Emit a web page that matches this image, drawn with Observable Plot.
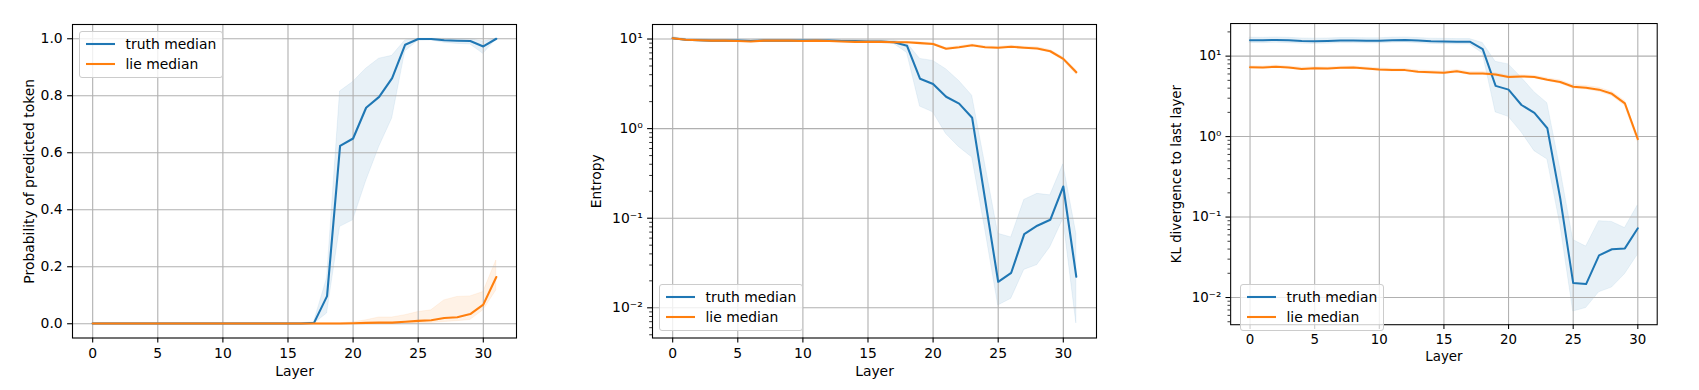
<!DOCTYPE html>
<html><head><meta charset="utf-8">
<script src="https://cdn.jsdelivr.net/npm/d3@7"></script>
<script src="https://cdn.jsdelivr.net/npm/@observablehq/plot@0.6"></script>
<style>
html,body{margin:0;padding:0;background:#fff;}
#root{position:relative;width:1699px;height:390px;overflow:hidden;font-family:"DejaVu Sans",sans-serif;}
.panel{position:absolute;top:0;}
.legend{position:absolute;background:rgba(255,255,255,0.8);border:1px solid #cccccc;border-radius:3px;padding:2px 6px;font-size:13.9px;color:#000;}
.legend .row{display:flex;align-items:center;height:20.5px;white-space:nowrap;}
.legend svg{margin-right:11px;display:block;}
</style></head><body><div id="root"></div>
<script>
// ---------- data ----------
const layers32 = [0,1,2,3,4,5,6,7,8,9,10,11,12,13,14,15,16,17,18,19,20,21,22,23,24,25,26,27,28,29,30,31];
const layers31 = [0,1,2,3,4,5,6,7,8,9,10,11,12,13,14,15,16,17,18,19,20,21,22,23,24,25,26,27,28,29,30];
const xTicks = [0,5,10,15,20,25,30];

// Panel 1: probability of predicted token
const probTruthMed = [0.001,0.001,0.001,0.001,0.001,0.001,0.001,0.001,0.001,0.001,0.001,0.001,0.001,0.001,0.001,0.001,0.001,0.003,0.097,0.624,0.650,0.758,0.796,0.862,0.979,0.999,0.999,0.995,0.993,0.992,0.973,1.0];
const probTruthLo  = [0,0,0,0,0,0,0,0,0,0,0,0,0,0,0,0,0,0,0.036,0.34,0.363,0.50,0.62,0.72,0.955,0.993,0.994,0.986,0.982,0.98,0.947,0.998];
const probTruthHi  = [0.002,0.002,0.002,0.002,0.002,0.002,0.002,0.002,0.002,0.002,0.002,0.002,0.002,0.002,0.002,0.002,0.002,0.005,0.16,0.815,0.848,0.895,0.93,0.94,0.994,1.0,1.0,1.0,0.999,0.999,0.99,1.0];
const probLieMed   = [0.001,0.001,0.001,0.001,0.001,0.001,0.001,0.001,0.001,0.001,0.001,0.001,0.001,0.001,0.001,0.001,0.001,0.001,0.001,0.001,0.002,0.003,0.004,0.004,0.007,0.010,0.012,0.020,0.023,0.034,0.067,0.164];
const probLieLo    = [0,0,0,0,0,0,0,0,0,0,0,0,0,0,0,0,0,0,0,0,0,0,0,0,0.001,0.002,0.003,0.006,0.009,0.013,0.047,0.117];
const probLieHi    = [0.002,0.002,0.002,0.002,0.002,0.002,0.002,0.002,0.002,0.002,0.002,0.002,0.002,0.002,0.002,0.002,0.002,0.002,0.002,0.002,0.005,0.012,0.022,0.022,0.03,0.041,0.047,0.082,0.094,0.096,0.111,0.222];
const probTicks = [0,0.2,0.4,0.6,0.8,1.0];
const probTickLabels = ["0.0","0.2","0.4","0.6","0.8","1.0"];

// Panel 2: entropy
const entTruthMed = [10.2,9.8,9.7,9.6,9.6,9.6,9.5,9.6,9.6,9.6,9.6,9.6,9.6,9.5,9.5,9.4,9.4,9.2,8.4,3.6,3.15,2.27,1.9,1.32,0.16,0.0195,0.0246,0.0665,0.0824,0.096,0.226,0.0222];
const entTruthLo  = [9.9,9.5,9.4,9.3,9.3,9.3,9.2,9.3,9.3,9.3,9.3,9.3,9.3,9.2,9.2,9.1,9.0,8.8,7.0,1.76,1.52,0.87,0.62,0.476,0.075,0.0106,0.0126,0.0265,0.030,0.0475,0.098,0.0067];
const entTruthHi  = [10.5,10.1,10.0,9.9,9.9,9.9,9.8,9.9,9.9,9.9,9.9,9.9,9.9,9.8,9.8,9.7,9.7,9.6,9.0,6.0,5.7,4.6,3.4,2.33,0.4,0.067,0.061,0.16,0.187,0.18,0.40,0.067];
const entLieMed   = [10.2,9.8,9.7,9.6,9.6,9.5,9.4,9.6,9.6,9.6,9.5,9.6,9.5,9.4,9.3,9.3,9.3,9.2,9.2,9.0,8.8,7.8,8.1,8.5,8.1,8.0,8.2,8.0,7.85,7.3,6.0,4.25];
const entLieLo    = [10.0,9.6,9.5,9.4,9.4,9.3,9.2,9.4,9.4,9.4,9.3,9.4,9.3,9.2,9.1,9.1,9.1,9.0,9.0,8.8,8.6,7.6,7.9,8.3,7.9,7.8,8.0,7.8,7.6,7.05,5.75,4.0];
const entLieHi    = [10.4,10.0,9.9,9.8,9.8,9.7,9.6,9.8,9.8,9.8,9.7,9.8,9.7,9.6,9.5,9.5,9.5,9.4,9.4,9.2,9.0,8.0,8.3,8.7,8.3,8.2,8.4,8.2,8.1,7.55,6.25,4.5];

// Panel 3: KL divergence to last layer
const klTruthMed = [15.8,15.7,15.9,15.7,15.4,15.3,15.4,15.6,15.6,15.5,15.5,15.8,15.9,15.6,15.3,15.2,15.1,15.1,12.2,4.27,3.83,2.47,1.97,1.27,0.17,0.0151,0.0147,0.0334,0.0398,0.0408,0.0726];
const klTruthLo  = [14.6,14.5,14.7,14.5,14.3,14.2,14.3,14.5,14.5,14.4,14.4,14.7,14.8,14.5,14.2,14.1,14.0,14.0,10.8,2.0,1.76,1.13,0.66,0.52,0.08,0.0067,0.0074,0.0116,0.0133,0.0195,0.034];
const klTruthHi  = [17.0,16.9,17.1,16.9,16.6,16.5,16.6,16.8,16.8,16.7,16.7,17.0,17.1,16.8,16.5,16.4,16.3,16.3,14.6,8.5,7.9,5.4,3.56,2.6,0.4,0.052,0.043,0.089,0.087,0.073,0.14];
const klLieMed   = [7.26,7.2,7.4,7.2,6.93,7.07,7.0,7.15,7.2,7.0,6.8,6.7,6.7,6.4,6.3,6.2,6.5,6.1,6.1,5.9,5.5,5.6,5.5,5.1,4.77,4.16,4.05,3.83,3.4,2.59,0.93];
const klLieLo    = [7.0,6.95,7.15,6.95,6.7,6.85,6.75,6.9,6.95,6.75,6.55,6.45,6.45,6.15,6.05,5.95,6.25,5.85,5.85,5.65,5.3,5.4,5.3,4.9,4.55,3.95,3.85,3.6,3.2,2.42,0.86];
const klLieHi    = [7.5,7.45,7.65,7.45,7.2,7.3,7.25,7.4,7.45,7.25,7.05,6.95,6.95,6.65,6.55,6.45,6.75,6.35,6.35,6.15,5.7,5.8,5.7,5.3,5.0,4.38,4.25,4.05,3.6,2.78,1.0];

const logTicks = [0.01,0.1,1,10];
const logTickLabels = ["10\u207B\u00B2","10\u207B\u00B9","10\u2070","10\u00B9"];
const logMinorTicks = [0.005,0.006,0.007,0.008,0.009,0.02,0.03,0.04,0.05,0.06,0.07,0.08,0.09,0.2,0.3,0.4,0.5,0.6,0.7,0.8,0.9,2,3,4,5,6,7,8,9,20];

const seriesNames = ["truth median","lie median"];
const BLUE = "#1f77b4", ORANGE = "#ff7f0e";

// ---------- drawing ----------
const root = document.getElementById("root");
const FS = 13.9;

function rows(layers, med, lo, hi) {
  return layers.map((l, i) => ({layer: l, med: med[i], lo: lo[i], hi: hi[i]}));
}

function panel(opt) {
  const [d0, d1] = opt.yDomain;
  const inDom = v => v >= Math.min(d0, d1) && v <= Math.max(d0, d1);
  const minor = (opt.minor || []).filter(inDom);
  const fmt = d => opt.yTickLabels[opt.yTicks.indexOf(d)];
  const marks = [
    Plot.areaY(opt.truth, {x: "layer", y1: "lo", y2: "hi", fill: BLUE, fillOpacity: 0.1, stroke: BLUE, strokeOpacity: 0.08, strokeWidth: 1}),
    Plot.areaY(opt.lie, {x: "layer", y1: "lo", y2: "hi", fill: ORANGE, fillOpacity: 0.1, stroke: ORANGE, strokeOpacity: 0.08, strokeWidth: 1}),
    Plot.gridX({ticks: xTicks.filter(v => v <= opt.xDomain[1]), stroke: "#b0b0b0", strokeOpacity: 1, strokeWidth: 1.1}),
    Plot.gridY({ticks: opt.yTicks, stroke: "#b0b0b0", strokeOpacity: 1, strokeWidth: 1.1}),
    Plot.line(opt.truth, {x: "layer", y: "med", stroke: BLUE, strokeWidth: 2.08}),
    Plot.line(opt.lie, {x: "layer", y: "med", stroke: ORANGE, strokeWidth: 2.08}),
    Plot.frame({stroke: "black", strokeWidth: 1.1}),
    Plot.axisX({ticks: xTicks, tickSize: 4.9, tickPadding: 4.9, label: null, tickFormat: d => String(d), fontSize: FS, strokeWidth: 1.1}),
    Plot.axisY({ticks: opt.yTicks, tickSize: 4.9, tickPadding: 4.9, label: null, tickFormat: fmt, fontSize: FS, strokeWidth: 1.1}),
    Plot.text(["Layer"], {text: d => d, frameAnchor: "bottom", dy: 33.5, lineAnchor: "middle", fontSize: FS, fill: "black"}),
    Plot.text([opt.ylabel], {text: d => d, frameAnchor: "left", dx: opt.ylabelDx, rotate: -90, lineAnchor: "middle", textAnchor: "middle", fontSize: FS, fill: "black"})
  ];
  if (minor.length) {
    marks.push(Plot.axisY({ticks: minor, tickSize: 2.8, label: null, tickFormat: () => "", strokeWidth: 0.8}));
  }
  const svg = Plot.plot({
    width: 560, height: 390,
    marginLeft: 72, marginRight: 44, marginTop: 24, marginBottom: 52.5,
    x: {domain: opt.xDomain},
    y: {type: opt.yType, domain: opt.yDomain},
    style: {fontFamily: "'DejaVu Sans', sans-serif", fontSize: FS + "px", color: "black", background: "transparent", overflow: "visible"},
    marks
  });
  const wrap = document.createElement("div");
  wrap.className = "panel";
  wrap.style.left = opt.left + "px";
  wrap.appendChild(svg);
  root.appendChild(wrap);

  // legend
  const lg = document.createElement("div");
  lg.className = "legend";
  lg.style.left = opt.legend.left + "px";
  if (opt.legend.top != null) lg.style.top = opt.legend.top + "px";
  if (opt.legend.bottom != null) lg.style.bottom = opt.legend.bottom + "px";
  [[seriesNames[0], BLUE], [seriesNames[1], ORANGE]].forEach(([name, col]) => {
    const r = document.createElement("div");
    r.className = "row";
    r.innerHTML = `<svg width="29" height="6"><line x1="0" x2="29" y1="3" y2="3" stroke="${col}" stroke-width="2.08"/></svg><span>${name}</span>`;
    lg.appendChild(r);
  });
  root.appendChild(lg);
}

panel({
  left: 0,
  xDomain: [-1.55, 32.55],
  yType: "linear", yDomain: [-0.05, 1.05],
  yTicks: probTicks, yTickLabels: probTickLabels,
  ylabel: "Probability of predicted token", ylabelDx: -43,
  truth: rows(layers32, probTruthMed, probTruthLo, probTruthHi),
  lie: rows(layers32, probLieMed, probLieLo, probLieHi),
  legend: {left: 78.5, top: 30.7}
});
panel({
  left: 580,
  xDomain: [-1.55, 32.55],
  yType: "log", yDomain: [Math.pow(10, -2.337), Math.pow(10, 1.162)],
  yTicks: logTicks, yTickLabels: logTickLabels, minor: logMinorTicks,
  ylabel: "Entropy", ylabelDx: -56,
  truth: rows(layers32, entTruthMed, entTruthLo, entTruthHi),
  lie: rows(layers32, entLieMed, entLieLo, entLieHi),
  legend: {left: 658.5, bottom: 390 - 330.6}
});
panel({
  left: 1161,
  xDomain: [-1.5, 31.5],
  yType: "log", yDomain: [Math.pow(10, -2.338), Math.pow(10, 1.405)],
  yTicks: logTicks, yTickLabels: logTickLabels, minor: logMinorTicks,
  ylabel: "KL divergence to last layer", ylabelDx: -56.5,
  truth: rows(layers31, klTruthMed, klTruthLo, klTruthHi),
  lie: rows(layers31, klLieMed, klLieLo, klLieHi),
  legend: {left: 1239.5, bottom: 390 - 330.6}
});
</script></body></html>
